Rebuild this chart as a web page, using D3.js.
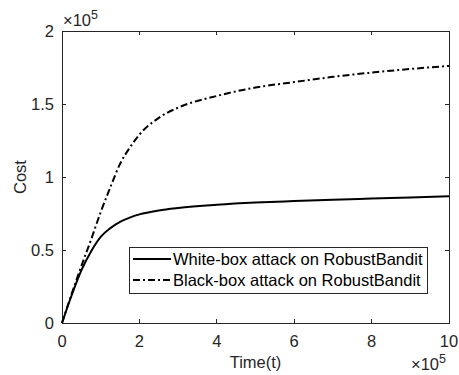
<!DOCTYPE html>
<html><head><meta charset="utf-8">
<script src="https://cdn.jsdelivr.net/npm/d3@7"></script>
<style>body{margin:0;background:#fff}svg text{font-family:"Liberation Sans",Arial,Helvetica,sans-serif}</style>
</head><body>
<svg id="c" width="459" height="375"></svg>
<script>
const time = [0,0.25,0.5,0.75,1,1.25,1.5,1.75,2,2.5,3,4,5,6,7,8,9,10];
const whiteBox = [0,0.19,0.36,0.49,0.59,0.65,0.693,0.722,0.744,0.771,0.788,0.81,0.825,0.835,0.844,0.852,0.86,0.868];
const blackBox = [0,0.2,0.39,0.57,0.76,0.93,1.09,1.20,1.29,1.405,1.475,1.555,1.613,1.65,1.686,1.715,1.74,1.761];
const xTicks = [0,2,4,6,8,10];
const yTicks = [0,0.5,1,1.5,2];
const yTickLabels = ["0","0.5","1","1.5","2"];
const seriesNames = ["White-box attack on RobustBandit","Black-box attack on RobustBandit"];

const svg = d3.select("#c");
const L=62,T=31,R=449,B=323;
const x = d3.scaleLinear().domain([0,10]).range([L,R]);
const y = d3.scaleLinear().domain([0,2]).range([B,T]);
const axCol="#262626";
const fs=16.5;

svg.append("rect").attr("x",L).attr("y",T).attr("width",R-L).attr("height",B-T)
  .attr("fill","none").attr("stroke",axCol).attr("stroke-width",1).attr("shape-rendering","crispEdges");

const ax = svg.append("g").attr("stroke",axCol).attr("shape-rendering","crispEdges");
xTicks.forEach(t=>{
  ax.append("line").attr("x1",x(t)).attr("x2",x(t)).attr("y1",B).attr("y2",B-4);
  ax.append("line").attr("x1",x(t)).attr("x2",x(t)).attr("y1",T).attr("y2",T+4);
  svg.append("text").attr("x",x(t)).attr("y",B+24).attr("text-anchor","middle")
    .attr("font-size",fs).attr("fill",axCol).text(t);
});
yTicks.forEach((t,i)=>{
  ax.append("line").attr("y1",y(t)).attr("y2",y(t)).attr("x1",L).attr("x2",L+4);
  ax.append("line").attr("y1",y(t)).attr("y2",y(t)).attr("x1",R).attr("x2",R-4);
  svg.append("text").attr("x",L-8).attr("y",y(t)+6).attr("text-anchor","end")
    .attr("font-size",fs).attr("fill",axCol).text(yTickLabels[i]);
});

function expo(xp,yp){
  const t=svg.append("text").attr("x",xp).attr("y",yp).attr("font-size",fs).attr("fill",axCol);
  t.append("tspan").text("\u00d710");
  t.append("tspan").attr("dy",-7).attr("font-size",12.5).text("5");
}
expo(63,26);
expo(411,370);

svg.append("text").attr("x",(L+R)/2).attr("y",368).attr("text-anchor","middle")
  .attr("font-size",fs).attr("fill",axCol).text("Time(t)");
svg.append("text").attr("transform",`translate(26,${(T+B)/2}) rotate(-90)`).attr("text-anchor","middle")
  .attr("font-size",fs).attr("fill",axCol).text("Cost");

const line = d3.line().x((d,i)=>x(time[i])).y(d=>y(d)).curve(d3.curveMonotoneX);
const g = svg.append("g");
g.append("path").attr("d",line(whiteBox)).attr("fill","none").attr("stroke","#000").attr("stroke-width",2);
g.append("path").attr("d",line(blackBox)).attr("fill","none").attr("stroke","#000").attr("stroke-width",2)
  .attr("stroke-dasharray","7,3,2,3");

const lg = svg.append("g");
lg.append("rect").attr("x",129).attr("y",247).attr("width",298).attr("height",46)
  .attr("fill","#fff").attr("stroke",axCol).attr("stroke-width",1).attr("shape-rendering","crispEdges");
const dashes=[null,"7,3,2,3"];
seriesNames.forEach((n,i)=>{
  const yy=259+i*21;
  lg.append("line").attr("x1",133).attr("x2",171).attr("y1",yy).attr("y2",yy)
    .attr("stroke","#000").attr("stroke-width",2).attr("stroke-dasharray",dashes[i]);
  lg.append("text").attr("x",173).attr("y",yy+6).attr("font-size",fs).attr("fill","#000").text(n);
});
</script>
</body></html>
